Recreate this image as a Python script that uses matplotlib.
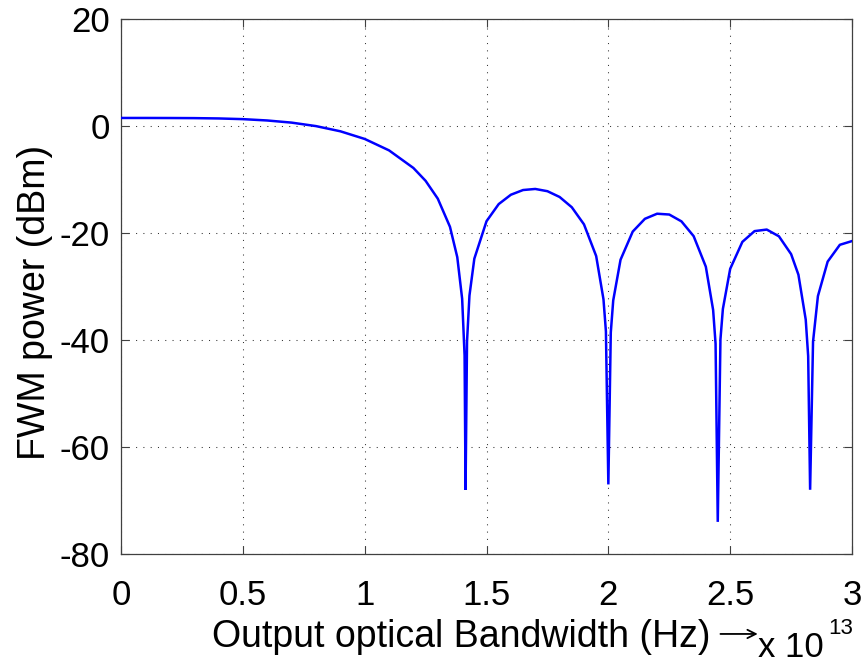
import matplotlib
matplotlib.use("Agg")
import matplotlib.pyplot as plt

plt.rcParams['font.family'] = ['Liberation Sans', 'DejaVu Sans']
plt.rcParams['axes.unicode_minus'] = False

# output optical bandwidth, in units of 1e13 Hz
bandwidth = [0.0, 0.1, 0.2, 0.3, 0.4, 0.5, 0.6, 0.7, 0.8, 0.9, 1.0, 1.1, 1.2, 1.25,
             1.3, 1.35, 1.38, 1.40, 1.41, 1.414, 1.42, 1.43, 1.45, 1.5, 1.55, 1.6,
             1.65, 1.7, 1.75, 1.8, 1.85, 1.9, 1.95, 1.98, 1.99, 2.0, 2.01, 2.02,
             2.05, 2.1, 2.15, 2.2, 2.25, 2.3, 2.35, 2.4, 2.43, 2.44, 2.449, 2.46,
             2.47, 2.5, 2.55, 2.6, 2.65, 2.7, 2.75, 2.78, 2.81, 2.82, 2.828, 2.84,
             2.86, 2.9, 2.95, 3.0]
# FWM power (dBm)
fwm_power = [1.5, 1.5, 1.49, 1.47, 1.41, 1.28, 1.03, 0.63, -0.02, -0.99, -2.42,
             -4.56, -7.85, -10.25, -13.58, -18.84, -24.52, -32.3, -42.9, -68.0,
             -40.3, -31.7, -24.8, -17.8, -14.6, -12.85, -11.97, -11.77, -12.19,
             -13.27, -15.19, -18.39, -24.31, -32.4, -38.4, -67.0, -38.6, -32.6,
             -25.0, -19.74, -17.35, -16.4, -16.55, -17.83, -20.59, -26.3, -34.4,
             -40.7, -74.0, -39.9, -34.2, -26.7, -21.66, -19.65, -19.36, -20.62,
             -23.95, -27.8, -36.2, -43.0, -68.0, -40.3, -31.8, -25.35, -22.21,
             -21.51]

xticks = [0, 0.5, 1, 1.5, 2, 2.5, 3]
xticklabels = ['0', '0.5', '1', '1.5', '2', '2.5', '3']
yticks = [-80, -60, -40, -20, 0, 20]

fig = plt.figure(figsize=(8.68, 6.64), dpi=100)
ax = fig.add_axes([0.1394, 0.1657, 0.8422, 0.8057])

ax.plot(bandwidth, fwm_power, color=(0, 0, 1), linewidth=1.8,
        solid_joinstyle='bevel', zorder=3)

ax.set_xlim(0, 3)
ax.set_ylim(-80, 20)
ax.set_xticks(xticks)
ax.set_xticklabels(xticklabels)
ax.set_yticks(yticks)

ax.grid(True, color='0.2', linestyle=(0, (1, 6)), linewidth=0.75)
ax.tick_params(direction='in', length=5.5, width=0.8, color='0.25',
               labelsize=25, top=True, right=True)
ax.tick_params(axis='x', pad=18)
ax.tick_params(axis='y', pad=8)
for sp in ax.spines.values():
    sp.set_color('0.25')
    sp.set_linewidth(0.9)

ax.set_ylabel('FWM power (dBm)', fontsize=27)
ax.yaxis.set_label_coords(-0.093, 0.47)

ax.set_xlabel('Output optical Bandwidth (Hz)', fontsize=27)
ax.xaxis.label.set_va('baseline')
ax.xaxis.set_label_coords(0.465, -0.1738)

# arrow after the x label
ax.annotate('', xy=(0.871, -0.1495), xytext=(0.82, -0.1495),
            xycoords='axes fraction', textcoords='axes fraction',
            arrowprops=dict(arrowstyle='->,head_length=0.6,head_width=0.3',
                            color='k', lw=1.3, shrinkA=0, shrinkB=0))
# exponent of the x axis
ax.text(0.871, -0.192, 'x 10', transform=ax.transAxes, fontsize=25,
        ha='left', va='baseline')
ax.text(0.968, -0.150, '13', transform=ax.transAxes, fontsize=16,
        ha='left', va='baseline')

fig.savefig('out.png', dpi=100)
